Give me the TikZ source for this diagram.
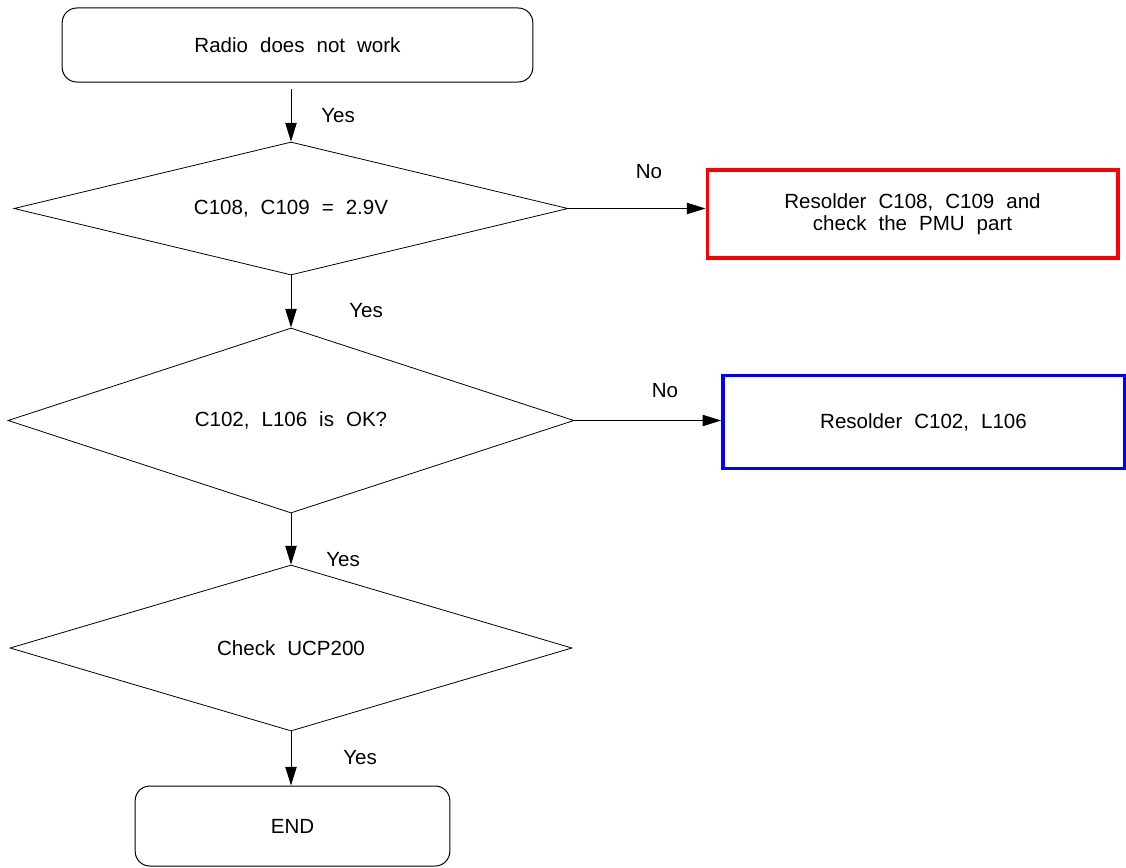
\documentclass[tikz,border=0pt]{standalone}
\usepackage{fontspec}
\setmainfont{Liberation Sans}[WordSpace=2.1]
\usepackage{tikz}
\usetikzlibrary{shapes.geometric, arrows.meta, positioning}
\definecolor{FCRed}{RGB}{255, 0, 0}
\definecolor{FCBlue}{RGB}{0, 0, 255}
\tikzset{
    startstop/.style={draw, rounded corners=11pt, line width=0.75pt},
    decision/.style={draw, diamond, inner sep=0pt, line width=0.6pt},
    process/.style={draw, line width=2.5pt, align=center},
    flow/.style={-{Triangle[length=14pt, width=8.5pt]}, line width=0.75pt},
}

\begin{document}
\begin{tikzpicture}[x=0.75pt, y=-0.75pt, font=\fontsize{15.4}{16.5}\selectfont]
        \useasboundingbox (0,0) rectangle (1126,867);

        % Start and end
        \node[startstop, minimum width=353pt, minimum height=55.5pt] (radio) at (297.5,45) {Radio does not work};
        \node[startstop, minimum width=236pt, minimum height=60pt] (finish) at (292.5,826) {END};

        % Checks
        \node[decision, shape aspect=4.17, minimum width=415.5pt, minimum height=99.75pt] (volt) at (291,208.5) {C108, C109 = 2.9V};
        \node[decision, shape aspect=3.06, minimum width=424.5pt, minimum height=138.75pt] (parts) at (291,420.5) {C102, L106 is OK?};
        \node[decision, shape aspect=3.39, minimum width=421.5pt, minimum height=124.5pt] (ucp) at (291,648) {Check UCP200};

        % Repairs
        \node[process, FCRed, text=black, minimum width=308pt, minimum height=66pt] (pmu) at (912.5,214) {Resolder C108, C109 and\\ check the PMU part};
        \node[process, FCBlue, text=black, minimum width=301pt, minimum height=70pt] (resolder) at (923.5,422) {Resolder C102, L106};

        % Flow
        \draw[flow, shorten <=4.5pt] (volt.north |- radio.south) -- (volt.north);
        \draw[flow] (volt.south) -- (parts.north);
        \draw[flow] (parts.south) -- (ucp.north);
        \draw[flow] (ucp.south) -- (ucp.south |- finish.north);
        \draw[flow] (volt.east) -- (volt.east -| pmu.west);
        \draw[flow] (parts.east) -- (parts.east -| resolder.west);

        % Labels
        \node (yes1) at (338,116) {Yes};
        \node (yes2) at (366,311) {Yes};
        \node (yes3) at (343,560) {Yes};
        \node (yes4) at (360,758) {Yes};
        \node (no1) at (649,172) {No};
        \node (no2) at (665,391) {No};
    \end{tikzpicture}
\end{document}
